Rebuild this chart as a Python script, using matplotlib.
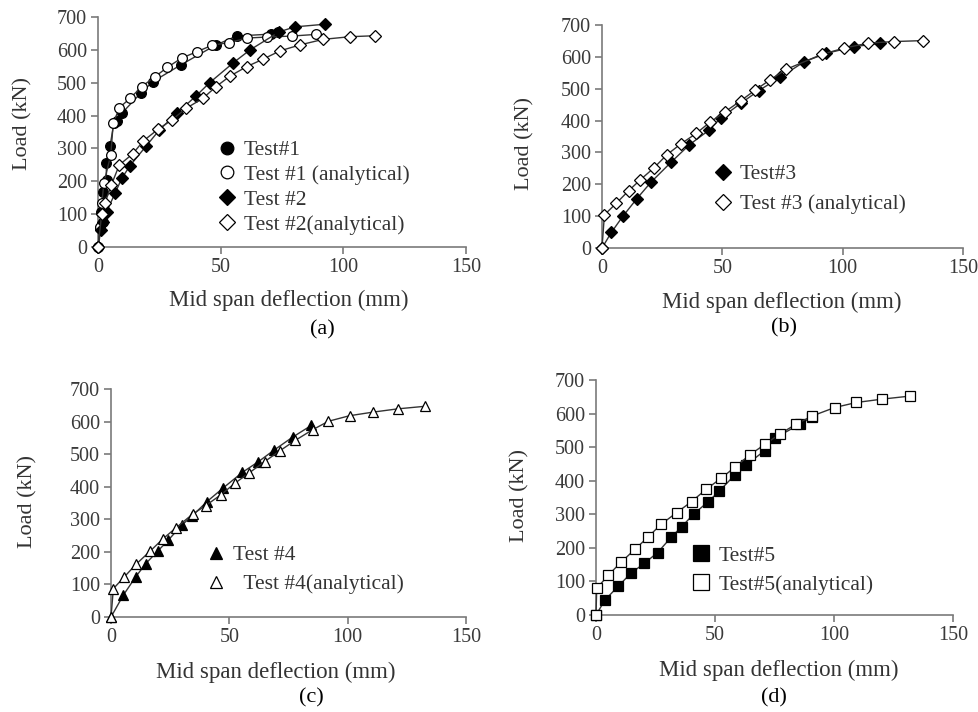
import matplotlib.pyplot as plt

plt.rcParams['font.family'] = ['Liberation Serif', 'DejaVu Serif']

# ---- data (deflection in mm, load in kN) ----
# (a)
t1_x = [0, 0.8, 1.9, 1.2, 2.2, 3.5, 3.3, 4.9, 6.5, 7.8, 9.7, 17.4, 22.3, 33.7,
        48.1, 56.5, 70.4, 73.5]
t1_y = [0, 57, 77, 107, 168, 204, 257, 307, 378, 385, 407, 468, 503, 554,
        615, 642, 648, 655]
t1a_x = [0, 0.8, 1.6, 2.4, 5.2, 6.2, 8.7, 13.0, 17.8, 23.2, 28.3, 34.1, 40.2,
         46.5, 53.3, 60.8, 68.9, 79.0, 88.8]
t1a_y = [0, 60, 135, 195, 280, 376, 424, 452, 488, 518, 547, 575, 594, 614,
         622, 636, 639, 642, 647]
t2_x = [0, 1.2, 2.2, 3.5, 6.9, 9.7, 13.0, 19.6, 25.0, 32.1, 40.0, 45.5, 55.2,
        62.0, 73.9, 80.3, 92.5]
t2_y = [0, 52, 75, 107, 163, 209, 247, 307, 356, 407, 460, 500, 561, 600,
        655, 670, 678]
t2a_x = [0, 1.5, 2.9, 5.5, 8.7, 14.1, 18.5, 24.6, 30.0, 35.9, 42.7, 48.1, 53.8,
         60.6, 67.1, 74.2, 82.3, 91.8, 102.7, 112.9]
t2a_y = [0, 100, 135, 190, 250, 283, 323, 359, 386, 422, 452, 488, 520, 549,
         571, 597, 615, 632, 640, 643]

# (b)
t3_x = [0, 3.9, 8.6, 14.5, 20.4, 28.8, 36.3, 44.3, 49.4, 57.8, 65.1, 74.1,
        84.1, 93.2, 104.8, 115.7]
t3_y = [0, 49, 99, 155, 207, 270, 324, 369, 408, 455, 494, 536, 585, 611,
        632, 643]
t3a_x = [0, 1.0, 6.0, 11.1, 15.9, 21.5, 27.0, 32.8, 39.2, 44.7, 51.2, 57.8,
         63.7, 69.9, 76.6, 91.4, 100.4, 110.5, 121.2, 133.2]
t3a_y = [0, 104, 141, 180, 214, 251, 293, 327, 360, 394, 428, 463, 496, 528,
         561, 608, 627, 643, 648, 651]

# (c)
t4_x = [0, 5.2, 10.4, 14.7, 19.7, 24.2, 29.9, 34.4, 40.5, 47.2, 55.5, 62.3,
        69.0, 76.7, 84.6]
t4_y = [0, 67, 123, 164, 202, 236, 282, 311, 354, 395, 444, 477, 513, 552,
        588]
t4a_x = [0, 1.0, 5.6, 10.6, 16.5, 22.1, 27.5, 34.5, 40.0, 46.4, 52.4, 58.1,
         64.9, 71.5, 77.8, 85.2, 91.9, 100.8, 110.7, 121.1, 132.8]
t4a_y = [0, 87, 123, 162, 202, 241, 274, 316, 342, 375, 411, 441, 477, 511,
         542, 575, 601, 618, 629, 639, 647]

# (d)
t5_x = [0, 3.8, 9.4, 14.6, 20.3, 25.9, 31.5, 36.0, 41.1, 47.2, 51.8, 58.3,
        63.2, 70.9, 75.4, 85.6, 90.9]
t5_y = [0, 45, 86, 124, 154, 186, 231, 263, 301, 338, 369, 417, 447, 490,
        528, 568, 591]
t5a_x = [0, 0.3, 5.2, 10.5, 16.4, 22.0, 27.3, 33.9, 40.2, 46.2, 52.5, 58.3,
         64.6, 70.9, 77.2, 84.2, 90.9, 100.3, 109.4, 120.2, 131.8]
t5a_y = [0, 79, 119, 157, 196, 233, 270, 305, 338, 374, 407, 440, 477, 508,
         539, 569, 593, 618, 633, 643, 652]

W, H = 979, 712
fig = plt.figure(figsize=(W / 100, H / 100), dpi=100)
LINE = '#333333'
GREY = '#7a7a7a'


def make_axes(x0, x1, y0, y1):
    """pixel box (left, right, bottom, top) -> axes"""
    ax = fig.add_axes([x0 / W, 1 - y0 / H, (x1 - x0) / W, (y0 - y1) / H])
    ax.set_xlim(0, 150)
    ax.set_ylim(0, 700)
    ax.set_xticks([0, 50, 100, 150])
    ax.set_yticks(range(0, 701, 100))
    for s in ['top', 'right']:
        ax.spines[s].set_visible(False)
    for s in ['left', 'bottom']:
        ax.spines[s].set_color(GREY)
        ax.spines[s].set_linewidth(1.2)
    ax.tick_params(direction='out', length=5, width=1.2, color=GREY,
                   labelsize=14.5, labelcolor='#3a3a3a', pad=3)
    ax.set_xlabel('Mid span deflection (mm)', fontsize=16.5, color='#333333',
                  va='center')
    ax.set_ylabel('Load (kN)', fontsize=16, color='#333333', va='center')
    return ax, (x0, x1, y0, y1)


def place_labels(ax, box, xl, yl):
    # label centres in pixels -> axes fraction
    x0, x1, y0, y1 = box
    ax.xaxis.set_label_coords((xl[0] - x0) / (x1 - x0), (y0 - xl[1]) / (y0 - y1))
    ax.yaxis.set_label_coords((yl[0] - x0) / (x1 - x0), (y0 - yl[1]) / (y0 - y1))


def series(ax, x, y, marker, filled, label, ms=7):
    ax.plot(x, y, '-', color=LINE, lw=1, marker=marker, ms=ms,
            mfc='black' if filled else 'white', mec='black', mew=0.9,
            label=label, clip_on=False, zorder=3)


def legend(ax, anchor, spacing, scale):
    leg = ax.legend(loc='upper left', bbox_to_anchor=anchor, frameon=False,
                    fontsize=15.5, handlelength=1.0, handletextpad=0.3,
                    labelspacing=spacing, markerscale=scale, borderpad=0,
                    borderaxespad=0)
    for h in leg.legend_handles:
        h.set_linestyle('none')
    for t in leg.get_texts():
        t.set_color('#333333')


# (a)
ax, box = make_axes(98, 466, 247, 17)
series(ax, t1_x, t1_y, 'o', True, 'Test#1')
series(ax, t1a_x, t1a_y, 'o', False, 'Test #1 (analytical)')
series(ax, t2_x, t2_y, 'D', True, 'Test #2', ms=6)
series(ax, t2a_x, t2a_y, 'D', False, 'Test #2(analytical)', ms=6)
place_labels(ax, box, (289, 300), (23, 123))
legend(ax, (0.32, 0.465), 0.22, 1.3)
fig.text(322 / W, 1 - 330 / H, '(a)', fontsize=16, ha='center', va='center')

# (b)
ax, box = make_axes(602, 963, 248, 25)
series(ax, t3_x, t3_y, 'D', True, 'Test#3', ms=6.5)
series(ax, t3a_x, t3a_y, 'D', False, 'Test #3 (analytical)', ms=6.5)
place_labels(ax, box, (782, 302), (525, 143))
legend(ax, (0.305, 0.375), 0.45, 1.3)
fig.text(784 / W, 1 - 328 / H, '(b)', fontsize=16, ha='center', va='center')

# (c)
ax, box = make_axes(111, 466, 617, 389)
series(ax, t4_x, t4_y, '^', True, 'Test #4', ms=7)
series(ax, t4a_x, t4a_y, '^', False, '  Test #4(analytical)', ms=7)
place_labels(ax, box, (276, 672), (28, 502))
legend(ax, (0.265, 0.315), 0.42, 1.3)
fig.text(311 / W, 1 - 698 / H, '(c)', fontsize=16, ha='center', va='center')

# (d)
ax, box = make_axes(596, 953, 615, 380)
series(ax, t5_x, t5_y, 's', True, 'Test#5', ms=6.5)
series(ax, t5a_x, t5a_y, 's', False, 'Test#5(analytical)', ms=6.5)
place_labels(ax, box, (779, 670), (520, 495))
legend(ax, (0.265, 0.295), 0.42, 1.8)
fig.text(774 / W, 1 - 698 / H, '(d)', fontsize=16, ha='center', va='center')

fig.savefig('out.png', dpi=100)
